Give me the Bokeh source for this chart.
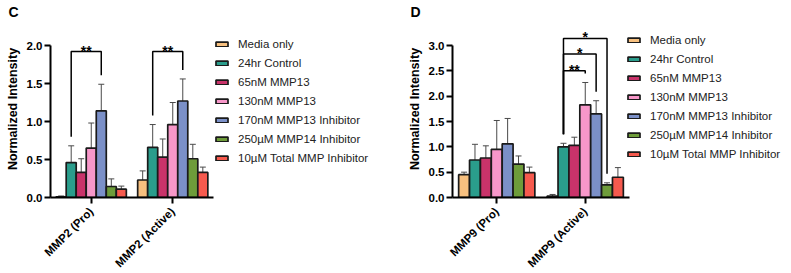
from bokeh.plotting import figure
from bokeh.models import (Range1d, FixedTicker, Legend, LegendItem, Whisker,
                          ColumnDataSource, NumeralTickFormatter, TeeHead,
                          Title)
from bokeh.layouts import row
from bokeh.embed import file_html
from bokeh.resources import INLINE
from bokeh.core.properties import value

# ---- data -------------------------------------------------------------
treatments = ["Media only", "24hr Control", "65nM MMP13", "130nM MMP13",
              "170nM MMP13 Inhibitor", "250µM MMP14 Inhibitor",
              "10µM Total MMP Inhibitor"]
colors = ["#F7C07F", "#2A9D8C", "#C9336A", "#F797C9",
          "#7B90C8", "#6E9C3A", "#F65A4E"]

mmp2_groups = ["MMP2 (Pro)", "MMP2 (Active)"]
mmp2_pro_mean = [0.01, 0.46, 0.33, 0.65, 1.14, 0.145, 0.11]
mmp2_pro_sd = [0.01, 0.22, 0.18, 0.33, 0.35, 0.10, 0.04]
mmp2_act_mean = [0.23, 0.66, 0.53, 0.96, 1.27, 0.51, 0.33]
mmp2_act_sd = [0.12, 0.30, 0.24, 0.29, 0.29, 0.19, 0.07]

mmp9_groups = ["MMP9 (Pro)", "MMP9 (Active)"]
mmp9_pro_mean = [0.45, 0.74, 0.78, 0.95, 1.06, 0.66, 0.49]
mmp9_pro_sd = [0.05, 0.31, 0.24, 0.57, 0.50, 0.16, 0.11]
mmp9_act_mean = [0.03, 1.00, 1.03, 1.83, 1.65, 0.25, 0.40]
mmp9_act_sd = [0.03, 0.07, 0.16, 0.44, 0.26, 0.04, 0.19]

# significance comparisons: (group index, bar a, bar b, bracket height, label)
mmp2_sig = [(0, 1, 4, 1.92, "**"), (1, 1, 4, 1.92, "**")]
mmp9_sig = [(1, 1, 3, 2.50, "**"), (1, 1, 4, 2.83, "*"), (1, 1, 5, 3.14, "*")]

mmp2_ticks = [0.0, 0.5, 1.0, 1.5, 2.0]
mmp9_ticks = [0.0, 0.5, 1.0, 1.5, 2.0, 2.5, 3.0]

# ---- styling ----------------------------------------------------------
FONT = "Liberation Sans"
BAR_W = 0.123
HEIGHT = 273
TOP, BOTTOM = 19, 77
AXIS_Y0, AXIS_YTOP = 196, 44   # pixel rows of zero and of the top tick


def panel(letter, groups, means, sds, sigs, ticks, width, left, axis_w,
          legend_dx, legend_dy):
    frame_h = HEIGHT - TOP - BOTTOM
    frame_w = width - left
    px_per_unit = (AXIS_Y0 - AXIS_YTOP) / ticks[-1]
    y_end = (AXIS_Y0 - TOP) / px_per_unit
    px_per_group = axis_w / 2.0
    x_end = 0.5 + frame_w / px_per_group
    p = figure(frame_width=frame_w, frame_height=frame_h,
               output_backend="svg", toolbar_location=None,
               x_range=Range1d(0.5, x_end), y_range=Range1d(0, y_end),
               min_border_left=left, min_border_right=0,
               min_border_top=TOP, min_border_bottom=BOTTOM)
    p.outline_line_color = None
    p.grid.visible = False
    p.background_fill_color = "white"
    p.border_fill_color = "white"

    items = []
    for j, name in enumerate(treatments):
        xs = [g + 1 + (j - 3) * BAR_W for g in range(len(groups))]
        tops = [means[g][j] for g in range(len(groups))]
        errs = [sds[g][j] for g in range(len(groups))]
        src = ColumnDataSource(dict(
            x=xs, top=tops,
            upper=[t + e for t, e in zip(tops, errs)],
            lower=[max(t - e, 0) for t, e in zip(tops, errs)]))
        r = p.vbar(x="x", top="top", width=BAR_W, bottom=0, source=src,
                   fill_color=colors[j], line_color="#1a1a1a",
                   line_width=1.7)
        p.add_layout(Whisker(
            source=src, base="x", upper="upper", lower="lower",
            line_color="#4a4a4a", line_width=1,
            upper_head=TeeHead(size=6, line_color="#4a4a4a", line_width=1),
            lower_head=TeeHead(size=6, line_color="#4a4a4a", line_width=1)))
        items.append(LegendItem(label=name, renderers=[r]))

    # significance brackets
    gap = 9 / px_per_unit
    for g, a, b, h, lab in sigs:
        xa = g + 1 + (a - 3) * BAR_W
        xb = g + 1 + (b - 3) * BAR_W
        la = means[g][a] + sds[g][a] + gap
        lb = means[g][b] + sds[g][b] + gap
        p.multi_line(xs=[[xa, xa, xb, xb]], ys=[[la, h, h, lb]],
                     line_color="black", line_width=1.5)
        p.text(x=[(xa + xb) / 2], y=[h], text=[lab], text_align="center",
               text_baseline="alphabetic", y_offset=-1,
               text_font=value(FONT), text_font_size="14px",
               text_font_style="bold", text_color="black")

    # axes
    for ax in (p.xaxis[0], p.yaxis[0]):
        ax.axis_line_width = 2
        ax.axis_line_color = "black"
        ax.major_tick_line_width = 2
        ax.major_tick_line_color = "black"
        ax.major_tick_out = 6
        ax.major_tick_in = 0
        ax.minor_tick_line_color = None
        ax.major_label_text_font = FONT
        ax.major_label_text_font_size = "11.5px"
        ax.major_label_text_font_style = "bold"
        ax.major_label_text_color = "black"

    p.xaxis.ticker = FixedTicker(ticks=[1, 2])
    p.xaxis.major_label_overrides = {1: groups[0], 2: groups[1]}
    p.xaxis.major_label_orientation = 0.785
    p.xaxis.major_label_standoff = 6
    p.xaxis.bounds = (0.5, 2.5)

    p.yaxis.ticker = FixedTicker(ticks=ticks)
    p.yaxis.formatter = NumeralTickFormatter(format="0.0")
    p.yaxis.bounds = (0, ticks[-1])
    p.yaxis.major_label_standoff = 2
    p.yaxis.axis_label = "Normalized Intensity"
    p.yaxis.axis_label_text_font = FONT
    p.yaxis.axis_label_text_font_size = "12.5px"
    p.yaxis.axis_label_text_font_style = "bold"
    p.yaxis.axis_label_text_color = "black"
    p.yaxis.axis_label_standoff = 4

    # legend sits just right of the plotted axis range
    legend = Legend(items=items, location=(axis_w + legend_dx, legend_dy),
                    glyph_width=15, glyph_height=6, label_standoff=9,
                    label_height=19, spacing=0, padding=0, margin=0,
                    border_line_alpha=0, background_fill_alpha=0,
                    label_text_font=FONT, label_text_font_size="11.5px",
                    label_text_color="#222222")
    p.add_layout(legend, "center")

    # panel letter
    p.add_layout(Title(text=letter, align="left", offset=-42, standoff=2,
                       text_font=FONT, text_font_size="14px",
                       text_font_style="bold", text_color="black"), "above")
    return p


pc = panel("C", mmp2_groups, [mmp2_pro_mean, mmp2_act_mean],
           [mmp2_pro_sd, mmp2_act_sd], mmp2_sig, mmp2_ticks,
           width=400, left=50, axis_w=163, legend_dx=1, legend_dy=30)
pd_ = panel("D", mmp9_groups, [mmp9_pro_mean, mmp9_act_mean],
            [mmp9_pro_sd, mmp9_act_sd], mmp9_sig, mmp9_ticks,
            width=391, left=52, axis_w=177, legend_dx=-3, legend_dy=34)

layout = row(pc, pd_)
open("out.html", "w").write(file_html(layout, INLINE))
